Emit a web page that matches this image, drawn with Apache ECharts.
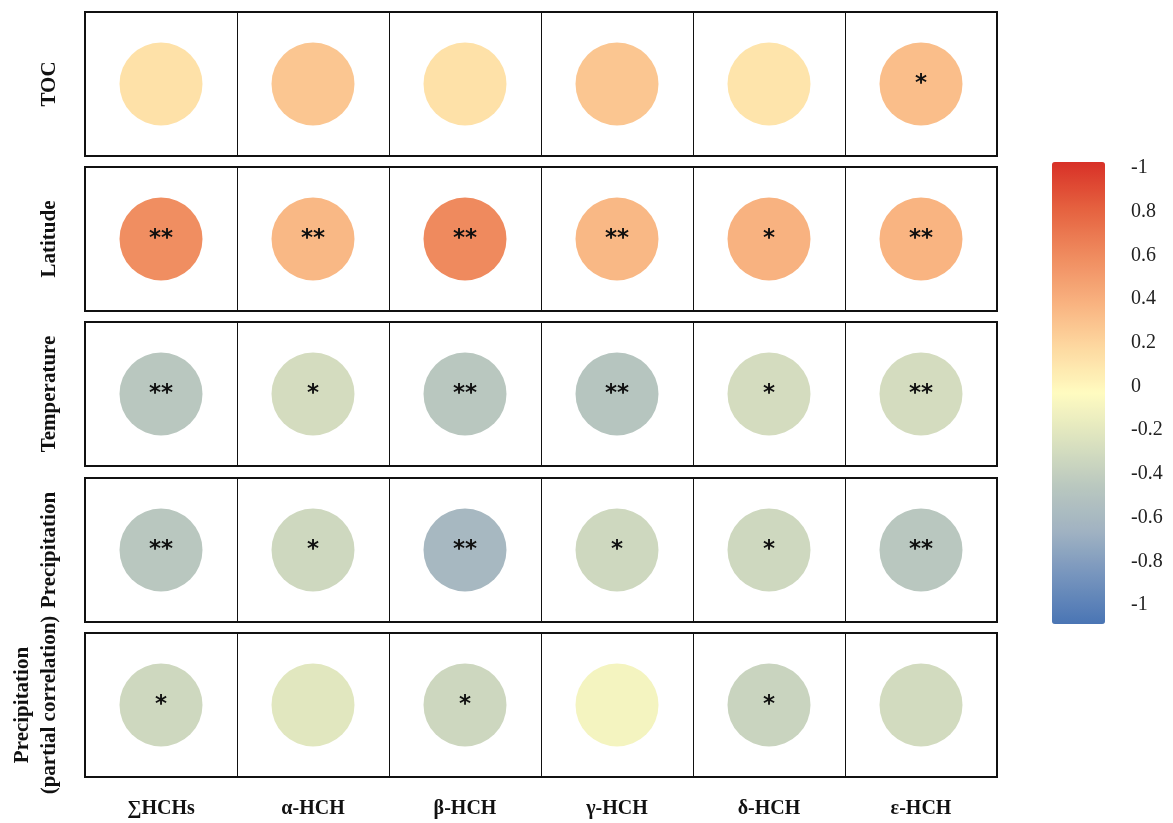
<!DOCTYPE html>
<html>
<head>
<meta charset="utf-8">
<script src="https://cdn.jsdelivr.net/npm/echarts@6/dist/echarts.min.js"></script>
<style>
  html, body { margin: 0; padding: 0; background: #fff; }
  #chart { width: 1173px; height: 823px; }
</style>
</head>
<body>
<div id="chart"></div>
<script>
// Correlation of HCH isomers with environmental factors
const compounds = ['∑HCHs', 'α-HCH', 'β-HCH', 'γ-HCH', 'δ-HCH', 'ε-HCH'];
const factors = ['TOC', 'Latitude', 'Temperature', 'Precipitation', 'Precipitation\n(partial correlation)'];

// correlation coefficients, one array per factor (columns follow `compounds`)
const rToc       = [0.15, 0.29, 0.15, 0.29, 0.13, 0.33];
const rLatitude  = [0.58, 0.36, 0.60, 0.36, 0.39, 0.38];
const rTemp      = [-0.41, -0.25, -0.41, -0.43, -0.25, -0.25];
const rPrecip    = [-0.41, -0.28, -0.55, -0.28, -0.28, -0.41];
const rPartial   = [-0.28, -0.17, -0.29, -0.06, -0.31, -0.26];

// significance markers (* p<0.05, ** p<0.01)
const sigToc      = ['', '', '', '', '', '*'];
const sigLatitude = ['**', '**', '**', '**', '*', '**'];
const sigTemp     = ['**', '*', '**', '**', '*', '**'];
const sigPrecip   = ['**', '*', '**', '*', '*', '**'];
const sigPartial  = ['*', '', '*', '', '*', ''];

// colour bar tick values
const barTicks = [1, 0.8, 0.6, 0.4, 0.2, 0, -0.2, -0.4, -0.6, -0.8, -1];

const rValues = [rToc, rLatitude, rTemp, rPrecip, rPartial];
const sigValues = [sigToc, sigLatitude, sigTemp, sigPrecip, sigPartial];

const palette = ['#4a75b4', '#7493bd', '#a0b2c2', '#bac8bf', '#dce3bf', '#fffbc0',
                 '#fdd8a0', '#f8b07e', '#ef8a5e', '#e5613f', '#d83027'];

const SERIF = '"Liberation Serif", "DejaVu Serif", serif';
const panelLeft = 85, panelWidth = 912, panelHeight = 144;
const panelTops = [12, 167, 322, 478, 633];

const grids = [], xAxes = [], yAxes = [], series = [];
factors.forEach((name, i) => {
  grids.push({
    left: panelLeft, top: panelTops[i], width: panelWidth, height: panelHeight,
    show: true, borderColor: '#111', borderWidth: 2, backgroundColor: '#fff'
  });
  xAxes.push({
    type: 'category', gridIndex: i, data: compounds, position: 'bottom',
    axisLine: { show: false }, axisTick: { show: false },
    splitLine: { show: true, interval: 0, lineStyle: { color: '#111', width: 1 } },
    axisLabel: {
      show: i === factors.length - 1, interval: 0, margin: 22,
      fontFamily: SERIF, fontWeight: 'bold', fontSize: 20, color: '#111'
    }
  });
  yAxes.push({
    type: 'category', gridIndex: i, data: [name],
    axisLine: { show: false }, axisTick: { show: false }, splitLine: { show: false },
    axisLabel: {
      rotate: 90, margin: 22, lineHeight: 27,
      fontFamily: SERIF, fontWeight: 'bold', fontSize: 21, color: '#111'
    }
  });
  series.push({
    type: 'scatter', xAxisIndex: i, yAxisIndex: i,
    symbol: 'circle', symbolSize: 83,
    itemStyle: { opacity: 1 },
    label: {
      show: true, position: 'inside',
      formatter: p => p.value[3],
      fontFamily: '"DejaVu Sans", sans-serif', fontWeight: 'bold', fontSize: 23, color: '#111'
    },
    emphasis: { disabled: true },
    data: rValues[i].map((v, j) => [j, 0, v, sigValues[i][j]])
  });
});

// colour bar tick labels share a small grid next to the gradient bar
grids.push({ left: 1052, top: 168, width: 53, height: 437, show: false });
xAxes.push({ type: 'value', gridIndex: 5, show: false });
yAxes.push({
  type: 'value', gridIndex: 5, position: 'right', min: -1, max: 1, interval: 0.2,
  axisLine: { show: false }, axisTick: { show: false }, splitLine: { show: false },
  axisLabel: {
    margin: 26, fontFamily: SERIF, fontSize: 20, color: '#222',
    formatter: v => {
      const r = Math.round(v * 10) / 10;
      return barTicks.indexOf(r) === 0 ? '-1' : String(r);
    }
  }
});

const chart = echarts.init(document.getElementById('chart'), null, { renderer: 'canvas' });
chart.setOption({
  animation: false,
  backgroundColor: '#fff',
  grid: grids,
  xAxis: xAxes,
  yAxis: yAxes,
  visualMap: {
    type: 'continuous', min: -1, max: 1, dimension: 2,
    seriesIndex: [0, 1, 2, 3, 4],
    left: 1052, top: 162, itemWidth: 53, itemHeight: 462,
    padding: 0, text: null, calculable: false, hoverLink: false, realtime: false,
    inRange: { color: palette }
  },
  series: series
});
</script>
</body>
</html>
